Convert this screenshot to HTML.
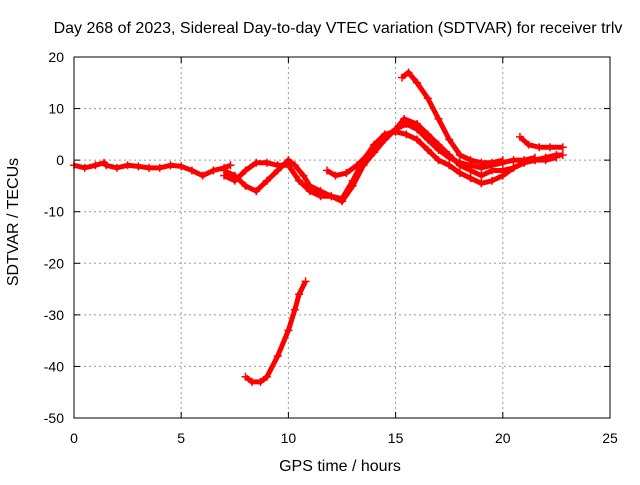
<!DOCTYPE html>
<html><head><meta charset="utf-8"><style>
body{margin:0;background:#fff}
svg{font-family:"Liberation Sans",sans-serif;font-size:14px}
.big{font-size:16px}
</style></head><body>
<svg id="chart" width="640" height="480">
<text class="big" x="338" y="33" text-anchor="middle">Day 268 of 2023, Sidereal Day-to-day VTEC variation (SDTVAR) for receiver trlv</text>
<text class="big" x="340" y="471" text-anchor="middle">GPS time / hours</text>
<text class="big" transform="translate(18,222) rotate(-90)" text-anchor="middle">SDTVAR / TECUs</text>
<g id="grid"></g><g id="ticks"></g><g id="series"></g>
<rect x="74" y="57" width="536" height="361" fill="none" stroke="#000"/>
</svg>
<script>
const xTicks=[0,5,10,15,20,25];
const yTicks=[20,10,0,-10,-20,-30,-40,-50];
const trackA=[[0,-1],[0.5,-1.5],[1,-1],[1.4,-0.5],[1.5,-1],[2,-1.5],[2.5,-1],[3,-1.2],[3.5,-1.5],[4,-1.5],[4.5,-1],[5,-1.2],[5.5,-2],[6,-3],[6.5,-2],[7,-1.5],[7.3,-1]];
const trackB=[[7,-2],[7.5,-3],[8,-5],[8.5,-6],[9,-4],[9.5,-2],[10,0],[10.3,-1],[10.7,-3],[11,-5],[11.5,-6],[12,-7],[12.5,-7.5],[13,-4],[13.5,0],[14,3],[14.5,5],[15,5.5],[15.5,5],[16,4],[16.5,2],[17,0],[17.5,-1],[18,-2.5],[18.5,-3.5],[19,-4.5],[19.5,-4],[20,-3],[20.5,-1.5],[21,-0.5],[21.5,0],[22,0.5],[22.5,1],[22.8,1]];
const trackC=[[7,-3],[7.5,-4],[8,-2],[8.5,-0.5],[9,-0.5],[9.5,-1],[10,-1],[10.5,-4],[11,-6],[11.5,-7],[12,-7],[12.5,-8],[13,-5],[13.5,-1],[14,1.5],[14.5,4],[15,6],[15.4,8],[16,7],[16.5,5],[17,3],[17.5,1],[18,-1],[18.5,-2],[19,-3],[19.5,-2],[20,-2],[20.5,-1.5],[21,-0.5],[21.5,0],[22,0],[22.5,0.5]];
const trackD=[[11.8,-2],[12.2,-3],[12.7,-2.5],[13.2,-1],[13.7,1],[14.2,3],[14.7,5],[15,6],[15.5,7],[16,6],[16.5,4],[17,2],[17.5,0.5],[18,-0.5],[18.5,-1],[19,-1.5],[19.5,-1],[20,-0.5],[20.5,0],[21,0],[21.5,0.5]];
const trackE=[[15.3,16],[15.6,17],[16,15],[16.5,12],[17,8],[17.5,4],[18,1],[18.5,0],[19,-0.5],[19.5,-0.5],[20,0]];
const trackF=[[20.8,4.5],[21.2,3],[21.7,2.5],[22.2,2.5],[22.8,2.5]];
const trackG=[[8,-42],[8.3,-43],[8.7,-43],[9,-42],[9.5,-38],[10,-33],[10.3,-29],[10.5,-26],[10.8,-23.5]];
const tracks=[trackA,trackB,trackC,trackD,trackE,trackF,trackG];
const NS="http://www.w3.org/2000/svg";
const X=v=>74+v/25*536, Y=v=>57+(20-v)/70*361;
function mk(t,a,p){const e=document.createElementNS(NS,t);for(const k in a)e.setAttribute(k,a[k]);p.appendChild(e);return e;}
const g=document.getElementById('grid'),tk=document.getElementById('ticks'),s=document.getElementById('series');
xTicks.forEach(v=>{
 if(v>0&&v<25){const l=mk('line',{x1:X(v),x2:X(v),y1:57,y2:418,stroke:'#999','stroke-dasharray':'2,3'},g);
 
 }
 const t=mk('text',{x:X(v),y:443,'text-anchor':'middle'},tk);t.textContent=v;
 
 
 mk('line',{x1:X(v),x2:X(v),y1:418,y2:412,stroke:'#000'},tk);mk('line',{x1:X(v),x2:X(v),y1:57,y2:63,stroke:'#000'},tk);
});
yTicks.forEach(v=>{
 if(v<20&&v>-50){const l=mk('line',{x1:74,x2:610,y1:Y(v),y2:Y(v),stroke:'#999','stroke-dasharray':'2,3'},g);
 
 }
 const t=mk('text',{x:64,y:Y(v)+5,'text-anchor':'end'},tk);t.textContent=v;
 
 
 mk('line',{x1:74,x2:80,y1:Y(v),y2:Y(v),stroke:'#000'},tk);mk('line',{x1:604,x2:610,y1:Y(v),y2:Y(v),stroke:'#000'},tk);
});
tracks.forEach(tr=>{
 const p=mk('polyline',{points:tr.map(d=>X(d[0])+','+Y(d[1])).join(' '),fill:'none',stroke:'#f00','stroke-width':5,'stroke-linejoin':'round'},s);
 
 
 tr.forEach(d=>{const x=X(d[0]),y=Y(d[1]);
  mk('path',{d:`M${x-4},${y}h8M${x},${y-4}v8`,stroke:'#f00','stroke-width':1.5},s);});
});
</script>
</body></html>
